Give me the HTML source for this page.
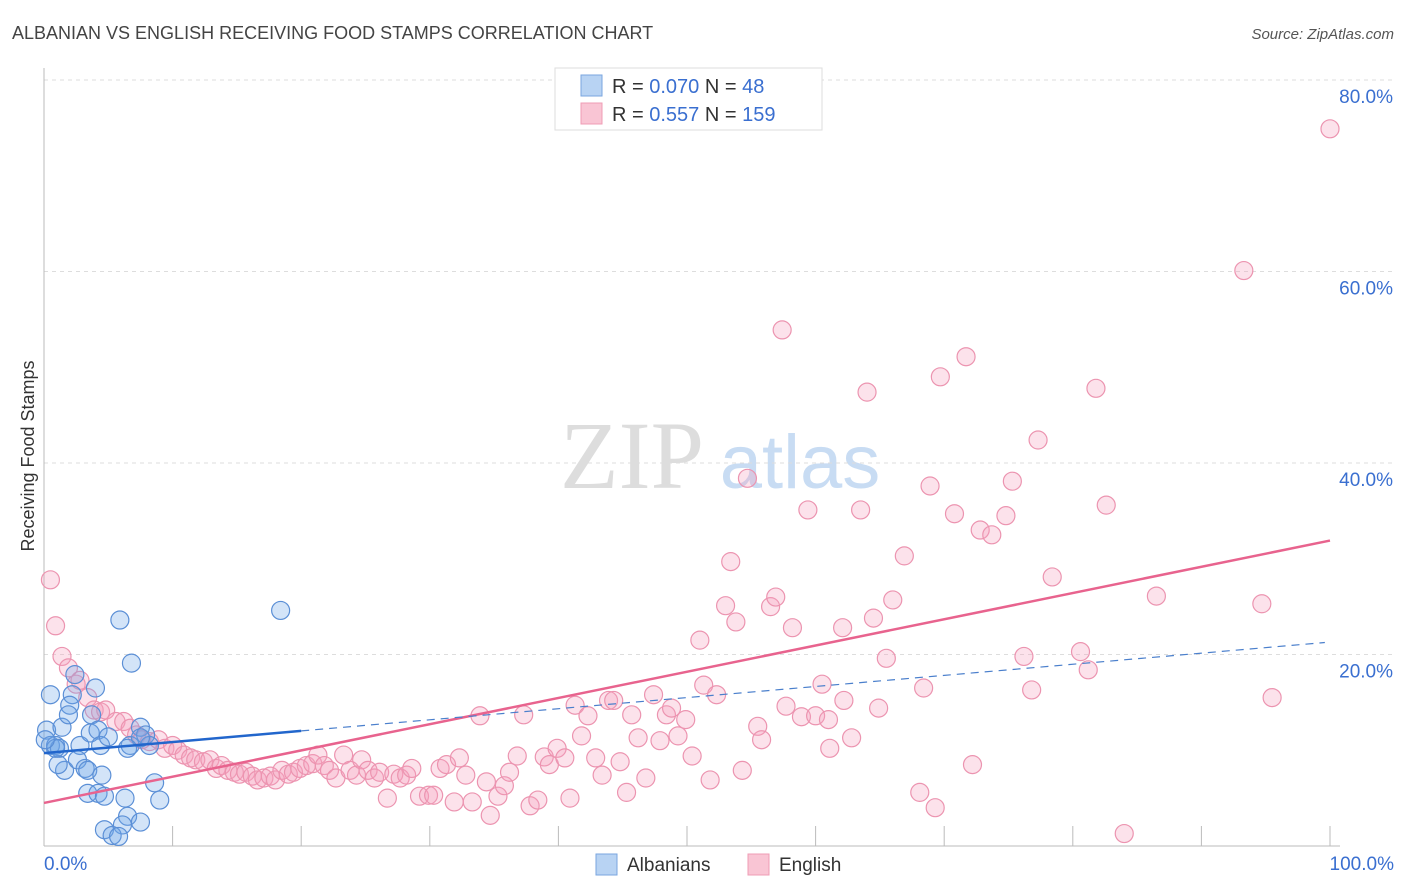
<!DOCTYPE html>
<html><head><meta charset="utf-8"><style>
body{margin:0;background:#fff;font-family:"Liberation Sans",sans-serif;}
svg{display:block}
</style></head><body>
<svg id="chart" width="1406" height="892" xmlns="http://www.w3.org/2000/svg">
<text x="12" y="39" font-size="18" fill="#444">ALBANIAN VS ENGLISH RECEIVING FOOD STAMPS CORRELATION CHART</text>
<text x="1394" y="39" font-size="15" font-style="italic" fill="#555" text-anchor="end">Source: ZipAtlas.com</text>
<g>
<text x="632" y="488" font-size="96" font-family="Liberation Serif,serif" fill="#ddd" text-anchor="middle">ZIP</text>
<text x="800" y="488" font-size="76" fill="#c8dcf3" text-anchor="middle">atlas</text>
</g>
<g id="grid"></g>
<g id="axes"></g>
<g id="marks"></g>
<text transform="translate(34,456) rotate(-90)" font-size="18" fill="#333" text-anchor="middle">Receiving Food Stamps</text>
<g>
<rect x="555" y="68" width="267" height="62" fill="#fff" stroke="#ddd"/>
<rect x="581" y="75" width="21" height="21" fill="#b8d3f3" stroke="#7aa6df"/>
<rect x="581" y="103" width="21" height="21" fill="#f9c5d4" stroke="#ef9cb5"/>
<text x="612" y="93" font-size="20" fill="#333">R = <tspan fill="#3a6fd0">0.070</tspan>   N =  <tspan fill="#3a6fd0">48</tspan></text>
<text x="612" y="121" font-size="20" fill="#333">R =  <tspan fill="#3a6fd0">0.557</tspan>   N = <tspan fill="#3a6fd0">159</tspan></text>
</g>
<g>
<rect x="596" y="854" width="21" height="21" fill="#b8d3f3" stroke="#7aa6df"/>
<text x="627" y="871" font-size="19" fill="#333">Albanians</text>
<rect x="748" y="854" width="21" height="21" fill="#f9c5d4" stroke="#ef9cb5"/>
<text x="779" y="871" font-size="19" fill="#333">English</text>
</g>
</svg>
<script>
const yTicks=[20,40,60,80];
const yTickLabels=["20.0%","40.0%","60.0%","80.0%"];
const xTicks=[0,10,20,30,40,50,60,70,80,90,100];
const blueX=[0.5,0.2,0.5,0.9,1.4,1.2,1.6,1.1,2.4,2.2,2.0,2.8,2.6,3.6,3.7,4.0,4.2,4.4,3.2,3.4,4.5,5.0,7.5,5.9,6.8,6.7,7.9,8.2,8.6,9.0,3.4,4.2,4.7,6.3,6.5,6.1,4.7,5.3,5.8,7.5,18.4,7.5,6.5,1.9,0.9,0.1];
const blueY=[15.8,12.1,10.5,10.5,12.4,10.2,7.9,8.5,17.9,15.8,14.7,10.5,9.0,11.8,13.7,16.5,12.1,10.5,8.1,7.9,7.4,11.4,12.4,23.6,19.1,10.5,11.6,10.5,6.6,4.8,5.5,5.5,5.2,5.0,3.1,2.2,1.7,1.1,1.0,2.5,24.6,11.3,10.2,13.7,10.2,11.1];
const pinkX=[0.5,0.9,1.4,1.9,2.5,2.8,3.4,3.9,4.4,4.8,5.6,6.2,6.7,7.2,7.6,8.2,8.9,9.4,10.0,10.4,10.9,11.4,11.8,12.4,12.9,13.4,13.8,14.3,14.8,15.2,15.7,16.2,16.6,17.1,17.6,18.0,18.5,19.0,19.4,19.9,20.4,20.9,21.3,21.8,22.2,22.7,23.3,23.8,24.3,24.7,25.2,25.7,26.1,26.7,27.2,27.7,28.2,28.6,29.2,29.9,30.3,30.8,31.3,31.9,32.3,32.8,33.3,33.9,34.4,34.7,35.3,35.8,36.2,36.8,37.3,37.8,38.4,38.9,39.3,39.9,40.5,40.9,41.3,41.8,42.3,42.9,43.4,43.9,44.3,44.8,45.3,45.7,46.2,46.8,47.4,47.9,48.4,48.8,49.3,49.9,50.4,51.0,51.3,51.8,52.3,53.0,53.4,53.8,54.3,54.7,55.5,55.8,56.5,56.9,57.4,57.7,58.2,58.9,59.4,60.0,60.5,61.0,61.1,62.1,62.2,62.8,63.5,64.0,64.5,64.9,65.5,66.0,66.9,68.1,68.4,68.9,69.3,69.7,70.8,71.7,72.2,72.8,73.7,74.8,75.3,76.2,76.8,77.3,78.4,80.6,81.2,81.8,82.6,84.0,86.5,93.3,94.7,95.5,100];
const pinkY=[27.8,23.0,19.8,18.6,16.9,17.3,15.5,14.2,14.0,14.2,13.0,13.0,12.3,11.6,11.1,10.9,11.1,10.2,10.5,10.0,9.5,9.2,9.0,8.8,9.0,8.1,8.4,7.9,7.7,7.5,7.7,7.3,6.9,7.1,7.3,6.9,7.9,7.5,7.7,8.1,8.4,8.6,9.5,8.4,7.9,7.1,9.5,7.9,7.4,9.0,7.9,7.1,7.7,5.0,7.5,7.1,7.4,8.1,5.2,5.3,5.3,8.1,8.5,4.6,9.2,7.4,4.6,13.6,6.7,3.2,5.2,6.3,7.7,9.4,13.7,4.2,4.8,9.3,8.5,10.2,9.2,5.0,14.7,11.5,13.6,9.2,7.4,15.2,15.2,8.8,5.6,13.7,11.3,7.1,15.8,11.0,13.7,14.4,11.5,13.2,9.4,21.5,16.8,6.9,15.8,25.1,29.7,23.4,7.9,38.4,12.5,11.1,25.0,26.0,53.9,14.6,22.8,13.5,35.1,13.6,16.9,13.2,10.2,22.8,15.2,11.3,35.1,47.4,23.8,14.4,19.6,25.7,30.3,5.6,16.5,37.6,4.0,49.0,34.7,51.1,8.5,33.0,32.5,34.5,38.1,19.8,16.3,42.4,28.1,20.3,18.4,47.8,35.6,1.3,26.1,60.1,25.3,15.5,74.9];
const blueTrend=[9.7,0.116];
const pinkTrend=[4.5,0.274];

const NS="http://www.w3.org/2000/svg";
const X=v=>44+v*12.86;
const Y=v=>846-v*9.575;
function mk(tag,attrs,parent){const e=document.createElementNS(NS,tag);for(const k in attrs)e.setAttribute(k,attrs[k]);parent.appendChild(e);return e;}
const grid=document.getElementById('grid'),axes=document.getElementById('axes'),marks=document.getElementById('marks');
yTicks.forEach((t,i)=>{
  const l=mk('line',{x1:44,x2:1395,y1:Y(t),y2:Y(t),stroke:'#ddd','stroke-dasharray':'4,4'},grid);
  
  
  const tx=mk('text',{x:1393,y:Y(t)+23,'font-size':19,fill:'#3a6fd0','text-anchor':'end'},axes);
  tx.textContent=yTickLabels[i];
  
  
});
const ax=mk('line',{x1:44,x2:44,y1:68,y2:846,stroke:'#bbb'},axes);


const bx=mk('line',{x1:44,x2:1340,y1:846,y2:846,stroke:'#bbb'},axes);


xTicks.forEach(t=>{
  if(t===0)return;
  const l=mk('line',{x1:X(t),x2:X(t),y1:826,y2:846,stroke:'#bbb'},axes);
  
  
});
const x0=mk('text',{x:44,y:870,'font-size':19,fill:'#3a6fd0'},axes);x0.textContent='0.0%';


const x1=mk('text',{x:1394,y:870,'font-size':19,fill:'#3a6fd0','text-anchor':'end'},axes);x1.textContent='100.0%';



pinkX.forEach((x,i)=>{
  const c=mk('circle',{cx:X(x),cy:Y(pinkY[i]),r:9,fill:'rgba(244,160,188,0.3)',stroke:'#ec94b0','stroke-width':1.2},marks);
  
  
});
blueX.forEach((x,i)=>{
  const c=mk('circle',{cx:X(x),cy:Y(blueY[i]),r:9,fill:'rgba(110,165,232,0.3)',stroke:'#5b8fd6','stroke-width':1.2},marks);
  
  
});
const pl=mk('line',{x1:X(0),y1:Y(pinkTrend[0]),x2:X(100),y2:Y(pinkTrend[0]+pinkTrend[1]*100),stroke:'#e8638e','stroke-width':2.5},marks);


const bl=mk('line',{x1:X(0),y1:Y(blueTrend[0]),x2:X(20),y2:Y(blueTrend[0]+blueTrend[1]*20),stroke:'#2266cc','stroke-width':2.5},marks);


const bd=mk('line',{x1:X(20),y1:Y(blueTrend[0]+blueTrend[1]*20),x2:X(99.6),y2:Y(blueTrend[0]+blueTrend[1]*99.6),stroke:'#4a7fcc','stroke-width':1.2,'stroke-dasharray':'8,6'},marks);


</script>
</body></html>
